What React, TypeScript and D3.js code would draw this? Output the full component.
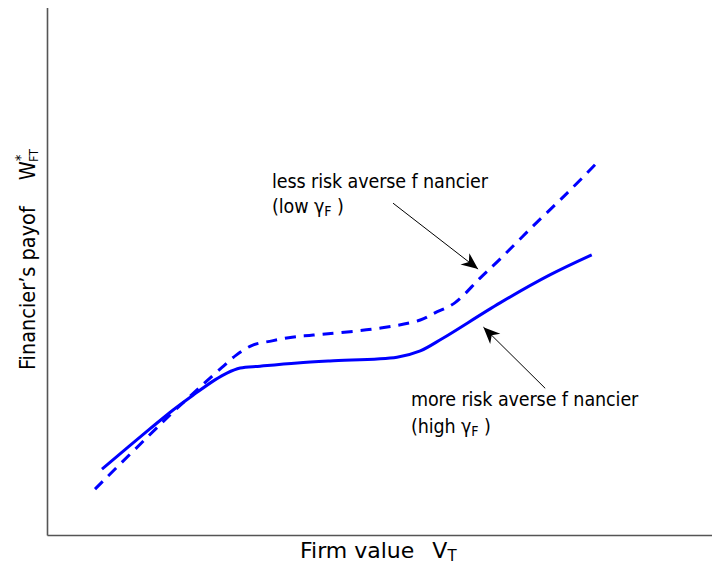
import React from "react";
import * as d3 from "d3";

// Data coordinates: firm value (x) 0..100, payoff (y) 0..100
const solidX = [8.2, 15.4, 18.9, 21.9, 25.2, 27.0, 29.0, 32.0, 37.6, 42.5, 52.6, 56.1, 59.5, 68.1, 75.6, 81.9];
const solidY = [12.6, 20.2, 23.8, 26.6, 29.5, 30.8, 31.75, 32.1, 32.7, 33.1, 33.8, 35.0, 37.4, 44.1, 49.4, 53.2];

const dashX = [7.15, 18.4, 22.5, 24.15, 26.3, 28.4, 30.9, 33.8, 36.8, 40.0, 50.0, 56.1, 58.3, 61.3, 65.1, 68.1, 73.1, 78.2, 82.8];
const dashY = [8.8, 22.8, 27.6, 29.5, 31.9, 34.2, 36.1, 36.9, 37.6, 38.0, 39.3, 40.85, 42.2, 44.1, 48.8, 52.4, 58.7, 64.9, 70.8];

const arrowFromX = [52.0, 74.9];
const arrowFromY = [63.0, 27.9];
const arrowToX = [64.8, 65.6];
const arrowToY = [50.5, 39.5];

const labelText = ["less risk averse f nancier", "more risk averse f nancier"];
const labelParen = ["(low ", "(high "];
const labelX = [33.8, 54.7];
const labelY = [65.8, 24.5];
const labelY2 = [61.1, 19.5];

const W = 720;
const H = 565;

export default function App() {
  const x = d3.scaleLinear().domain([0, 100]).range([47.5, 712]);
  const y = d3.scaleLinear().domain([0, 100]).range([535.5, 8]);

  const solidPts: [number, number][] = solidX.map((v, i) => [v, solidY[i]]);
  const dashPts: [number, number][] = dashX.map((v, i) => [v, dashY[i]]);

  const line = d3
    .line<[number, number]>()
    .x((d) => x(d[0]))
    .y((d) => y(d[1]))
    .curve(d3.curveCatmullRom.alpha(0.5));

  const cond = "'DejaVu Sans Condensed', 'DejaVu Sans', Verdana, sans-serif";
  const norm = "'DejaVu Sans', Verdana, sans-serif";

  return (
    <svg
      width={W}
      height={H}
      style={{ position: "absolute", left: 0, top: 0, background: "#fff" }}
      fontFamily={cond}
    >
      <defs>
        <marker
          id="ah"
          markerUnits="userSpaceOnUse"
          markerWidth={20}
          markerHeight={20}
          viewBox="-16 -8 18 16"
          refX={0}
          refY={0}
          orient="auto"
        >
          <path d="M0,0 L-15,-6.5 L-10.5,0 L-15,6.5 Z" fill="#000" />
        </marker>
      </defs>

      {/* axes */}
      <line x1={x(0)} y1={y(100)} x2={x(0)} y2={y(0)} stroke="#555" strokeWidth={1.6} />
      <line x1={x(0)} y1={y(0)} x2={x(100)} y2={y(0)} stroke="#555" strokeWidth={1.6} />

      {/* curves */}
      <path d={line(solidPts) || ""} fill="none" stroke="#0000ff" strokeWidth={3} />
      <path
        d={line(dashPts) || ""}
        fill="none"
        stroke="#0000ff"
        strokeWidth={3}
        strokeDasharray="11 8"
      />

      {/* arrows */}
      {arrowFromX.map((v, i) => (
        <line
          key={"a" + i}
          x1={x(v)}
          y1={y(arrowFromY[i])}
          x2={x(arrowToX[i])}
          y2={y(arrowToY[i])}
          stroke="#000"
          strokeWidth={1}
          markerEnd="url(#ah)"
        />
      ))}

      {/* annotations */}
      {labelText.map((t, i) => (
        <g key={"l" + i} fontSize={19.5} fill="#000">
          <text x={x(labelX[i])} y={y(labelY[i])} letterSpacing={-0.1}>
            {t}
          </text>
          <text x={x(labelX[i])} y={y(labelY2[i])} letterSpacing={-0.1}>
            {labelParen[i]}γ
            <tspan fontSize={14} dy={3}>F</tspan>
            <tspan dy={-3}>{" )"}</tspan>
          </text>
        </g>
      ))}

      {/* x label */}
      <text x={300} y={558} fontSize={22} fill="#000" fontFamily={norm}>
        Firm value
        <tspan dx={18}>V</tspan>
        <tspan fontSize={15} dy={3}>T</tspan>
      </text>

      {/* y label */}
      <text
        transform={`translate(35, 370) rotate(-90)`}
        fontSize={21.5}
        fill="#000"
      >
        Financier’s payof
        <tspan dx={26}>W</tspan>
        <tspan fontSize={14} dx={0} dy={-10}>*</tspan>
        <tspan fontSize={12} dx={-7} dy={13}>FT</tspan>
      </text>
    </svg>
  );
}
